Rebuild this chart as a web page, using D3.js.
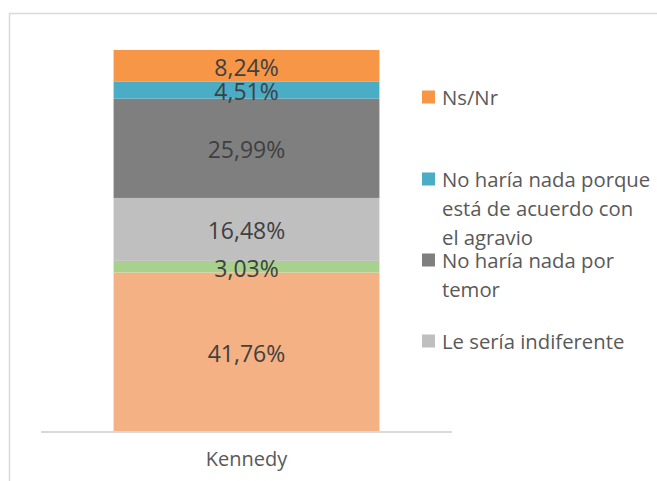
<!DOCTYPE html>
<html>
<head>
<meta charset="utf-8">
<script src="https://cdn.jsdelivr.net/npm/d3@7"></script>
<style>
  body { margin: 0; background: #fff; }
  text { font-family: "Open Sans", sans-serif; }
</style>
</head>
<body>
<script>
// data, bottom of the stack first ("\n" marks where the legend wraps)
var categories = ["Kennedy"];
var seriesNames = [null, null, "Le sería indiferente", "No haría nada por\ntemor",
                   "No haría nada porque\nestá de acuerdo con\nel agravio", "Ns/Nr"];
var seriesValues = [41.76, 3.03, 16.48, 25.99, 4.51, 8.24];
var seriesLabels = ["41,76%", "3,03%", "16,48%", "25,99%", "4,51%", "8,24%"];
var seriesColors = ["#F4B183", "#A9D18E", "#BFBFBF", "#7F7F7F", "#4BACC6", "#F79646"];

var width = 657,
    height = 481;

var svg = d3.select("body")
    .append("svg")
    .attr("width", width)
    .attr("height", height);

//chart frame (runs off the page at right and bottom)
svg.append("rect")
    .attr("x", 9.5).attr("y", 13.5)
    .attr("width", 700).attr("height", 520)
    .attr("fill", "none")
    .attr("stroke", "#D9D9D9")
    .attr("stroke-width", 1.5);

var x = d3.scaleBand()
    .domain(categories)
    .range([41, 452])
    .paddingInner(0)
    .paddingOuter(0.273);

var y = d3.scaleLinear()
    .domain([0, 100])
    .range([432, 50]);

//build stacked rows
var row = {cat: categories[0]};
seriesValues.forEach(function(v, i){ row["s" + i] = v; });
var stack = d3.stack().keys(seriesValues.map(function(v, i){ return "s" + i; }));
var layers = stack([row]);

var g = svg.append("g");

layers.forEach(function(layer, i){
    g.selectAll(".seg" + i)
        .data(layer)
        .enter()
        .append("rect")
        .attr("x", function(d){ return x(d.data.cat); })
        .attr("width", x.bandwidth())
        .attr("y", function(d){ return y(d[1]); })
        .attr("height", function(d){ return y(d[0]) - y(d[1]); })
        .attr("fill", seriesColors[i]);
});

//data labels
layers.forEach(function(layer, i){
    g.selectAll(".lab" + i)
        .data(layer)
        .enter()
        .append("text")
        .attr("x", function(d){ return x(d.data.cat) + x.bandwidth() / 2; })
        .attr("y", function(d){ return (y(d[0]) + y(d[1])) / 2 + 1; })
        .attr("text-anchor", "middle")
        .attr("dominant-baseline", "central")
        .attr("font-size", 23)
        .attr("fill", "#404040")
        .text(seriesLabels[i]);
});

//category axis
var xAxis = svg.append("g")
    .attr("transform", "translate(0,432)")
    .call(d3.axisBottom(x).tickSize(0).tickPadding(20));
xAxis.select(".domain")
    .attr("d", "M41,0H452")
    .attr("stroke", "#D9D9D9")
    .attr("stroke-width", 2);
xAxis.selectAll("text")
    .attr("font-family", "Open Sans")
    .attr("font-size", 20)
    .attr("fill", "#595959");

//legend: top series first
var legendItems = [];
for (var i = seriesNames.length - 1; i >= 0; i--) {
    if (seriesNames[i]) legendItems.push({name: seriesNames[i], color: seriesColors[i]});
}
var legendTops = [97, 179, 260, 341];
var lineGap = 29;

var legend = svg.append("g");
legendItems.forEach(function(item, k){
    var cy = legendTops[k];
    legend.append("rect")
        .attr("x", 422).attr("y", cy - 6.5)
        .attr("width", 13).attr("height", 13)
        .attr("fill", item.color);
    legend.append("text")
        .attr("font-size", 20.3)
        .attr("fill", "#595959")
        .selectAll("tspan")
        .data(item.name.split("\n"))
        .enter()
        .append("tspan")
        .attr("x", 442)
        .attr("y", function(d, n){ return cy + n * lineGap; })
        .attr("dominant-baseline", "central")
        .text(function(d){ return d; });
});
</script>
</body>
</html>
